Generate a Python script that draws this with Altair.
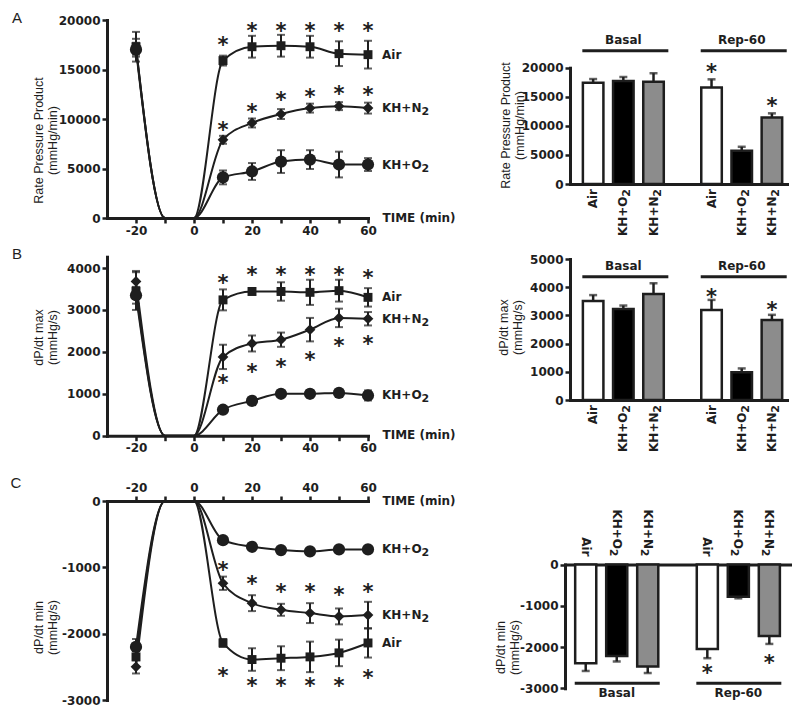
import altair as alt
import pandas as pd

# ---------------- data ----------------
time = [-20, -10, 0, 10, 20, 30, 40, 50, 60]
series = ["Air", "KH+N₂", "KH+O₂"]
treat = ["Air", "KH+O₂", "KH+N₂"]
periods = ["Basal", "Rep-60"]
star_times = [10, 20, 30, 40, 50, 60]

# Panel A (rate pressure product, mmHg/min)
rpp_air = [17300, 0, 0, 15900, 17300, 17400, 17300, 16600, 16500]
rpp_air_err = [1500, 0, 0, 500, 1100, 1100, 1100, 1250, 1400]
rpp_n2 = [17300, 0, 0, 7900, 9600, 10500, 11100, 11300, 11100]
rpp_n2_err = [800, 0, 0, 400, 450, 500, 450, 400, 550]
rpp_o2 = [17000, 0, 0, 4100, 4700, 5700, 5900, 5400, 5400]
rpp_o2_err = [700, 0, 0, 700, 850, 1150, 950, 1300, 650]
rpp_star_air = [18000, 19400, 19400, 19400, 19400, 19400]
rpp_star_n2 = [9400, 11250, 12400, 12750, 13000, 12900]

rpp_basal = [17400, 17700, 17600]
rpp_basal_err = [650, 700, 1450]
rpp_rep = [16600, 5700, 11450]
rpp_rep_err = [1400, 700, 700]
rpp_bar_star = [20170, 14200]  # Rep-60 Air, Rep-60 KH+N2
rpp_bracket = 22900

# Panel B (dP/dt max, mmHg/s)
max_air = [3450, 0, 0, 3240, 3440, 3440, 3420, 3460, 3300]
max_air_err = [450, 0, 0, 250, 60, 220, 300, 260, 220]
max_n2 = [3680, 0, 0, 1880, 2200, 2290, 2530, 2810, 2790]
max_n2_err = [250, 0, 0, 290, 190, 170, 280, 220, 160]
max_o2 = [3350, 0, 0, 620, 830, 1000, 1000, 1020, 960]
max_o2_err = [200, 0, 0, 60, 60, 70, 90, 60, 120]
max_star_air = [3760, 3960, 3960, 3960, 3960, 3880]
max_star_n2 = [1370, 1650, 1770, 1930, 2270, 2300]

max_basal = [3510, 3230, 3760]
max_basal_err = [210, 120, 380]
max_rep = [3190, 980, 2840]
max_rep_err = [360, 140, 180]
max_bar_star = [3840, 3370]
max_bracket = 4370

# Panel C (dP/dt min, mmHg/s)
min_air = [-2350, 0, 0, -2140, -2390, -2370, -2350, -2290, -2140]
min_air_err = [150, 0, 0, 60, 170, 180, 230, 200, 220]
min_n2 = [-2500, 0, 0, -1240, -1540, -1640, -1690, -1740, -1720]
min_n2_err = [100, 0, 0, 100, 120, 90, 150, 120, 200]
min_o2 = [-2200, 0, 0, -590, -690, -740, -760, -730, -730]
min_o2_err = [120, 0, 0, 40, 40, 40, 40, 40, 40]
min_star_n2 = [-960, -1170, -1300, -1300, -1340, -1290]
min_star_air = [-2570, -2720, -2720, -2720, -2720, -2600]

min_basal = [-2390, -2215, -2470]
min_basal_err = [190, 135, 160]
min_rep = [-2045, -780, -1730]
min_rep_err = [225, 40, 195]
min_bar_star = [-2510, -2270]
min_bracket = -2877

# ---------------- styling ----------------
INK = "#1e1e1e"
W, H = 784, 699
BOLD = dict(font="DejaVu Sans", fontWeight="bold", fontSize=12, color=INK)
SUB = dict(text="2", font="DejaVu Sans", fontWeight="bold", fontSize=11,
           color=INK)
STAR = dict(text="*", font="DejaVu Sans", fontWeight="bold", fontSize=21,
            dy=6, color=INK)
HAS_SUB = "indexof(datum.{f}, '₂') >= 0"
SUB_W = 7.5     # advance of the lowered "2"
BASE_W = 39.5   # advance of "KH+N" / "KH+O"


def line_df(vals, errs):
    rows = []
    for s, vl, el in zip(series, vals, errs):
        for t, v, e in zip(time, vl, el):
            rows.append({"time": t, "series": s, "value": v, "err": e,
                         "lo": v - e, "hi": v + e})
    return pd.DataFrame(rows)


def star_df(pairs):
    rows = []
    for s, ys in pairs:
        for t, y in zip(star_times, ys):
            rows.append({"time": t, "series": s, "y": y})
    return pd.DataFrame(rows)


def bar_df(basal, basal_err, rep, rep_err):
    rows = []
    for p, vals, errs in (("Basal", basal, basal_err), ("Rep-60", rep, rep_err)):
        for t, v, e in zip(treat, vals, errs):
            sign = 1 if v >= 0 else -1
            rows.append({"period": p, "treatment": t, "value": v, "zero": 0,
                         "end": v + sign * e})
    return pd.DataFrame(rows)


def left_panel(df, sdf, ydom, yrng, yticks, xorient, xoff, ytitle, ty):
    xs = alt.Scale(domain=[-30, 60], range=[99, 360], nice=False, zero=False)
    ys = alt.Scale(domain=ydom, range=yrng, nice=False, zero=False)
    xax = alt.Axis(orient=xorient, offset=xoff, values=time,
                   labelExpr="datum.value % 20 == 0 ? '' + datum.value : ''",
                   title="TIME (min)", titleX=374, titleY=-1, titleAlign="left",
                   titleBaseline="middle", titleAngle=0, titleFont="DejaVu Sans",
                   titleFontWeight="bold", titleFontSize=12,
                   labelFlush=False, labelOverlap=False)
    yax = alt.Axis(orient="left", offset=-99, values=yticks,
                   labelExpr="'' + datum.value", title=ytitle, titleX=-62,
                   titleY=ty, titleBaseline="bottom", titleLineHeight=14,
                   labelFlush=False, labelOverlap=False)
    X = lambda f, ax=None: alt.X(f, scale=xs, axis=ax)
    Y = lambda f, ax=None: alt.Y(f, scale=ys, axis=ax)
    base = alt.Chart(df)
    line = base.mark_line(interpolate="monotone", color=INK, strokeWidth=2).encode(
        x=X("time:Q", xax), y=Y("value:Q", yax), detail="series:N")
    err = base.transform_filter("datum.err > 0").mark_rule(
        color=INK, strokeWidth=2).encode(x=X("time:Q"), y=Y("lo:Q"), y2="hi:Q")
    caps = base.transform_filter("datum.err > 0").transform_fold(
        ["lo", "hi"], as_=["end", "endval"]).mark_tick(
        orient="horizontal", size=8, thickness=2, color=INK).encode(
        x=X("time:Q"), y=Y("endval:Q"))
    pts = base.transform_filter("datum.value != 0").mark_point(
        filled=True, opacity=1, color=INK).encode(
        x=X("time:Q"), y=Y("value:Q"),
        shape=alt.Shape("series:N", scale=alt.Scale(
            domain=series, range=["square", "diamond", "circle"]), legend=None),
        size=alt.Size("series:O", scale=alt.Scale(
            domain=series, range=[80, 150, 110]), legend=None))
    last = base.transform_filter("datum.time == 60")
    lab = last.transform_calculate(
        main="replace(datum.series, '₂', '')").mark_text(
        align="left", baseline="middle", dx=14, **BOLD).encode(
        x=X("time:Q"), y=Y("value:Q"), text="main:N")
    lab2 = last.transform_filter(HAS_SUB.format(f="series")).mark_text(
        align="left", baseline="middle", dx=14 + BASE_W, dy=4, **SUB).encode(
        x=X("time:Q"), y=Y("value:Q"))
    st = alt.Chart(sdf).mark_text(**STAR).encode(x=X("time:Q"), y=Y("y:Q"))
    return [line, err, caps, pts, lab, lab2, st]


def right_panel(df, star_vals, bracket, ydom, yrng, yticks, xrng, po, al,
                xoff, yoff, ytitle, tx, ty, angle, ldx, roff, gdy):
    xs = alt.Scale(type="band", domain=periods, range=xrng, paddingInner=0.235,
                   paddingOuter=po, align=al)
    xo = alt.Scale(type="band", domain=treat, paddingInner=0.32,
                   paddingOuter=0.16)
    ys = alt.Scale(domain=ydom, range=yrng, nice=False, zero=False)
    xax = alt.Axis(orient="bottom", offset=xoff, labels=False, ticks=False,
                   title=None)
    yax = alt.Axis(orient="left", offset=yoff, values=yticks,
                   labelExpr="'' + datum.value", title=ytitle, titleX=tx,
                   titleY=ty, titleBaseline="bottom", titleLineHeight=14,
                   labelFlush=False, labelOverlap=False)
    X = lambda ax=None: alt.X("period:N", scale=xs, axis=ax)
    XO = alt.XOffset("treatment:N", scale=xo)
    Y = lambda f, ax=None: alt.Y(f, scale=ys, axis=ax)
    base = alt.Chart(df)
    bars = base.mark_bar(stroke=INK, strokeWidth=2.5).encode(
        x=X(xax), xOffset=XO, y=Y("value:Q", yax), y2="zero:Q",
        color=alt.Color("treatment:N", scale=alt.Scale(
            domain=treat, range=["#ffffff", "#000000", "#8c8c8c"]), legend=None))
    err = base.mark_rule(color=INK, strokeWidth=2.5).encode(
        x=X(), xOffset=XO, y=Y("value:Q"), y2="end:Q")
    caps = base.mark_tick(orient="horizontal", size=8, thickness=2.5,
                          color=INK).encode(x=X(), xOffset=XO, y=Y("end:Q"))
    sub_f = HAS_SUB.format(f="treatment")
    lab_plain = base.transform_filter("!(" + sub_f + ")").mark_text(
        angle=angle, align="right", baseline="middle", dx=ldx, **BOLD).encode(
        x=X(), xOffset=XO, y=Y("zero:Q"), text="treatment:N")
    lab_main = base.transform_filter(sub_f).transform_calculate(
        main="replace(datum.treatment, '₂', '')").mark_text(
        angle=angle, align="right", baseline="middle", dx=ldx - SUB_W,
        **BOLD).encode(x=X(), xOffset=XO, y=Y("zero:Q"), text="main:N")
    lab_sub = base.transform_filter(sub_f).mark_text(
        angle=angle, align="right", baseline="middle", dx=ldx, dy=4,
        **SUB).encode(x=X(), xOffset=XO, y=Y("zero:Q"))
    sdf = pd.DataFrame({"period": ["Rep-60", "Rep-60"],
                        "treatment": ["Air", "KH+N₂"], "y": star_vals})
    st = alt.Chart(sdf).mark_text(**STAR).encode(x=X(), xOffset=XO, y=Y("y:Q"))
    bdf = pd.DataFrame({"period": periods, "y": [bracket, bracket]})
    brule = alt.Chart(bdf).mark_rule(strokeWidth=3, color=INK, xOffset=roff[0],
                                     x2Offset=roff[1]).encode(
        x=X(), x2="period:N", y=Y("y:Q"))
    btxt = alt.Chart(bdf).mark_text(dy=gdy, baseline="middle", **BOLD).encode(
        x=X(), y=Y("y:Q"), text="period:N")
    return [bars, err, caps, lab_plain, lab_main, lab_sub, st, brule, btxt]


layers = []
layers += left_panel(
    line_df([rpp_air, rpp_n2, rpp_o2], [rpp_air_err, rpp_n2_err, rpp_o2_err]),
    star_df([("Air", rpp_star_air), ("KH+N₂", rpp_star_n2)]),
    [0, 20000], [210, 12], [0, 5000, 10000, 15000, 20000], "bottom", -489,
    ["Rate Pressure Product", "(mmHg/min)"], 132)
layers += left_panel(
    line_df([max_air, max_n2, max_o2], [max_air_err, max_n2_err, max_o2_err]),
    star_df([("Air", max_star_air), ("KH+N₂", max_star_n2)]),
    [0, 4270], [427.7, 248.7], [0, 1000, 2000, 3000, 4000], "bottom", -271.3,
    ["dP/dt max", "(mmHg/s)"], 329)
layers += left_panel(
    line_df([min_air, min_n2, min_o2], [min_air_err, min_n2_err, min_o2_err]),
    star_df([("Air", min_star_air), ("KH+N₂", min_star_n2)]),
    [-3000, 0], [692, 493], [-3000, -2000, -1000, 0], "top", -493,
    ["dP/dt min", "(mmHg/s)"], 619)

layers += right_panel(
    bar_df(rpp_basal, rpp_basal_err, rpp_rep, rpp_rep_err), rpp_bar_star,
    rpp_bracket, [0, 20000], [176, 59.7], [0, 5000, 10000, 15000, 20000],
    [562, 779], 0.034, 1, -523, -562, ["Rate Pressure Product", "(mmHg/min)"],
    -58, 117, 270, -5, (-41, 45), -10.5)
layers += right_panel(
    bar_df(max_basal, max_basal_err, max_rep, max_rep_err), max_bar_star,
    max_bracket, [0, 5000], [392, 251], [0, 1000, 2000, 3000, 4000, 5000],
    [562, 779], 0.034, 1, -307, -562, ["dP/dt max", "(mmHg/s)"],
    -60, 319, 270, -5, (-41, 45), -10.5)
layers += right_panel(
    bar_df(min_basal, min_basal_err, min_rep, min_rep_err), min_bar_star,
    min_bracket, [-3000, 0], [680.3, 556.5], [-3000, -2000, -1000, 0],
    [557, 785], 0.055, 0.39, -142.5, -557, ["dP/dt min", "(mmHg/s)"],
    -58, 639, 90, -8, (-42, 43), 10)

one = pd.DataFrame({"k": [0]})
for letter, lx, ly in (("A", 9, 9.5), ("B", 9, 246), ("C", 8, 475)):
    layers.append(alt.Chart(one).mark_text(
        text=letter, font="Liberation Sans", fontSize=15, color=INK,
        align="center", baseline="middle").encode(
        x=alt.value(lx), y=alt.value(ly)))

chart = alt.layer(*layers).resolve_scale(
    x="independent", y="independent", xOffset="independent"
).properties(
    width=W, height=H, autosize=alt.AutoSizeParams(type="none"), padding=0
).configure_view(strokeWidth=0).configure_axis(
    grid=False, domainColor=INK, domainWidth=3, domainCap="square",
    tickColor=INK, tickWidth=2.5, tickSize=5,
    labelFont="DejaVu Sans", labelFontWeight="bold", labelFontSize=12,
    labelColor=INK, labelPadding=2,
    titleFont="Liberation Sans", titleFontSize=12.5, titleFontWeight="normal",
    titleColor=INK)

chart.save("out.html", embed_options={"renderer": "svg", "actions": False})
